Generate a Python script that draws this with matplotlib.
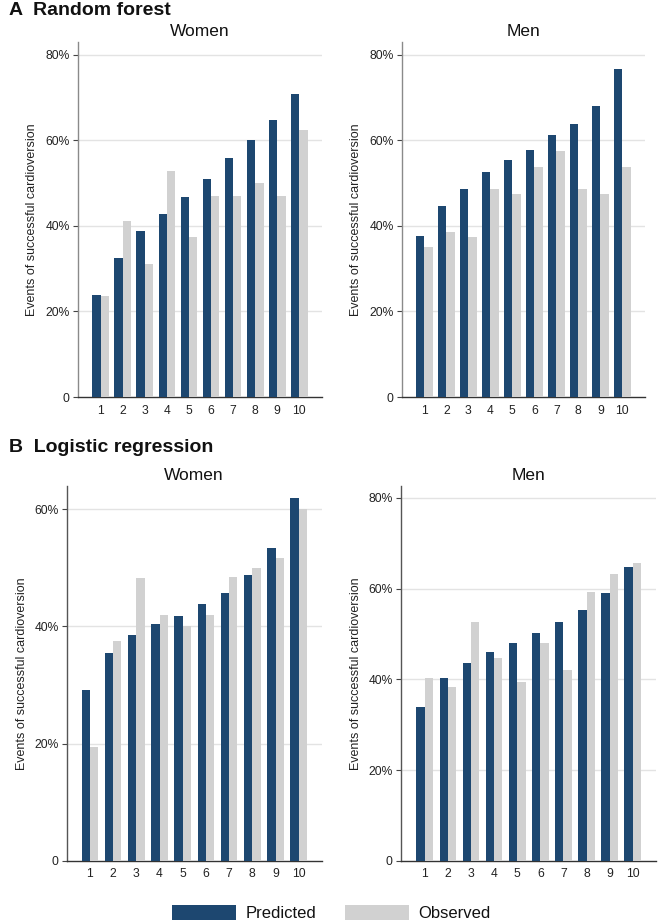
import matplotlib
matplotlib.use("Agg")
import matplotlib.pyplot as plt
from matplotlib.patches import Patch
from matplotlib.ticker import FuncFormatter
import numpy as np

plt.rcParams['font.family'] = ['Liberation Sans', 'DejaVu Sans']

deciles = ['1', '2', '3', '4', '5', '6', '7', '8', '9', '10']

rf_women_pred = [23.9, 32.4, 38.8, 42.7, 46.8, 51.0, 55.8, 60.0, 64.7, 70.9]
rf_women_obs = [23.6, 41.1, 31.2, 52.9, 37.5, 47.0, 47.0, 50.0, 47.0, 62.5]
rf_men_pred = [37.7, 44.7, 48.6, 52.6, 55.3, 57.7, 61.3, 63.9, 68.1, 76.7]
rf_men_obs = [35.0, 38.5, 37.5, 48.6, 47.5, 53.8, 57.5, 48.6, 47.5, 53.8]
lr_women_pred = [29.1, 35.5, 38.6, 40.4, 41.8, 43.8, 45.7, 48.7, 53.3, 61.9]
lr_women_obs = [19.4, 37.5, 48.3, 41.9, 40.0, 41.9, 48.4, 50.0, 51.7, 60.0]
lr_men_pred = [34.0, 40.3, 43.5, 46.0, 48.1, 50.2, 52.6, 55.2, 59.0, 64.7]
lr_men_obs = [40.3, 38.2, 52.6, 44.7, 39.5, 48.1, 42.1, 59.3, 63.2, 65.7]

panel_titles = ['A  Random forest', 'B  Logistic regression']
sex_titles = ['Women', 'Men']
y_label = 'Events of successful cardioversion'
legend_labels = ['Predicted', 'Observed']

DARK = '#1d4770'
LIGHT = '#d1d1d1'
TXT = '#222222'

W, H = 669, 922
fig = plt.figure(figsize=(W / 100, H / 100), dpi=100)


def px_axes(l, t, r, b):
    return fig.add_axes([l / W, 1 - b / H, (r - l) / W, (b - t) / H])


panels = [
    dict(box=(78, 42, 322, 397), pred=rf_women_pred, obs=rf_women_obs, ymax=83.0,
         ticks=[0, 20, 40, 60, 80], xl=(-1.03, 10.03), title='Women', ty=36.5, ylx=32.5, bw=0.38, sp='#8a8a8a'),
    dict(box=(401.7, 42, 645, 397), pred=rf_men_pred, obs=rf_men_obs, ymax=83.0,
         ticks=[0, 20, 40, 60, 80], xl=(-1.03, 10.03), title='Men', ty=36.5, ylx=356, bw=0.38, sp='#8a8a8a'),
    dict(box=(66.7, 485.7, 321.7, 860.7), pred=lr_women_pred, obs=lr_women_obs, ymax=64.0,
         ticks=[0, 20, 40, 60], xl=(-1.0, 9.99), title='Women', ty=480, ylx=22.5, bw=0.36, sp='#555555'),
    dict(box=(401, 485.7, 655.7, 860.7), pred=lr_men_pred, obs=lr_men_obs, ymax=82.7,
         ticks=[0, 20, 40, 60, 80], xl=(-1.03, 9.99), title='Men', ty=480, ylx=356, bw=0.36, sp='#555555'),
]

x = np.arange(len(deciles))
for p in panels:
    l, t, r, b = p['box']
    ax = px_axes(l, t, r, b)
    bw = p['bw']
    ax.bar(x - bw / 2, p['pred'], width=bw, color=DARK, zorder=3)
    ax.bar(x + bw / 2, p['obs'], width=bw, color=LIGHT, zorder=3)
    ax.set_xlim(*p['xl'])
    ax.set_ylim(0, p['ymax'])
    ax.set_xticks(x)
    ax.set_xticklabels(deciles)
    ax.set_yticks(p['ticks'])
    ax.yaxis.set_major_formatter(FuncFormatter(lambda v, pos: '0' if v == 0 else f'{v:.0f}%'))
    for g in p['ticks'][1:]:
        ax.axhline(g, color='#e3e3e3', lw=1.0, zorder=1)
    for s in ['top', 'right']:
        ax.spines[s].set_visible(False)
    ax.spines['left'].set_color(p['sp'])
    ax.spines['left'].set_linewidth(1.0)
    ax.spines['bottom'].set_color('#333333')
    ax.spines['bottom'].set_linewidth(1.0)
    ax.tick_params(axis='x', length=0, pad=5.5, labelsize=8.7, labelcolor=TXT)
    ax.tick_params(axis='y', length=3.4, width=0.8, color='#444444', pad=2.5, labelsize=8.7, labelcolor=TXT)
    ax.set_facecolor('white')
    fig.text((l + r) / 2 / W, 1 - p['ty'] / H, p['title'], ha='center', va='baseline',
             fontsize=12.5, color='#111111')
    fig.text(p['ylx'] / W, 1 - (t + b) / 2 / H, y_label, rotation=90, ha='center', va='center',
             fontsize=9, color=TXT)

fig.text(9 / W, 1 - 15 / H, panel_titles[0], ha='left', va='baseline', fontsize=14,
         fontweight='bold', color='#111111')
fig.text(9 / W, 1 - 452 / H, panel_titles[1], ha='left', va='baseline', fontsize=14,
         fontweight='bold', color='#111111')

handles = [Patch(facecolor=DARK, edgecolor='none', label=legend_labels[0]),
           Patch(facecolor=LIGHT, edgecolor='none', label=legend_labels[1])]
fig.legend(handles=handles, loc='lower center', bbox_to_anchor=(331.5 / W, 0.0), ncol=2,
           frameon=False, borderpad=0.05, borderaxespad=0, handlelength=3.84, handleheight=1.05,
           handletextpad=0.58, columnspacing=1.7, fontsize=12, labelcolor='#111111')

fig.savefig('out.png', dpi=100, facecolor='white')
